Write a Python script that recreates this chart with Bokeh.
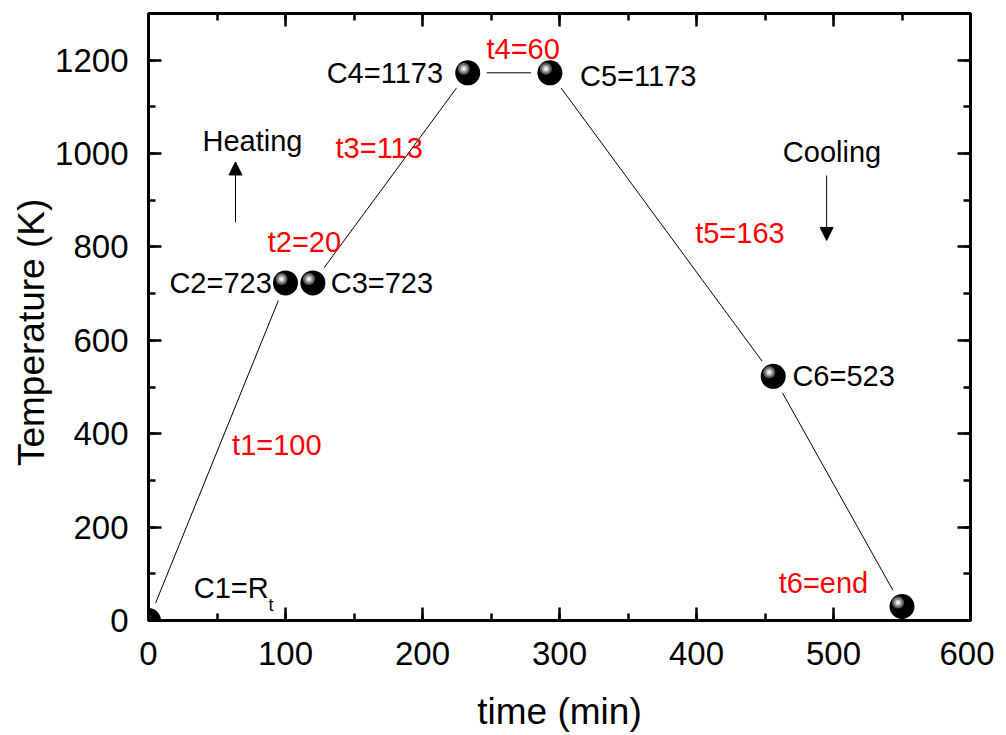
from bokeh.plotting import figure
from bokeh.models import (ColumnDataSource, LinearAxis, SingleIntervalTicker, Arrow,
                          NormalHead, Range1d, CustomJSTickFormatter)
from bokeh.transform import dodge
from bokeh.core.properties import value
from bokeh.embed import file_html
from bokeh.resources import INLINE

# ---- data ----
time_min = [0, 100, 120, 233, 293, 456, 550]
temp_k = [0, 723, 723, 1173, 1173, 523, 30]

point_labels = ["C2=723", "C3=723", "C4=1173", "C5=1173", "C6=523"]
point_label_x = [90, 133, 215, 315, 470]
point_label_y = [723, 723, 1173, 1166, 523]
point_label_align = ["right", "left", "right", "left", "left"]

step_labels = ["t1=100", "t2=20", "t3=113", "t4=60", "t5=163", "t6=end"]
step_label_x = [61, 87, 136.5, 246.7, 399, 460]
step_label_y = [375, 810, 1011, 1225, 829, 81]

FONT = "Liberation Sans"

p = figure(frame_width=822, frame_height=607, output_backend="svg", toolbar_location=None,
           x_range=Range1d(0, 600), y_range=Range1d(0, 1300),
           min_border_left=148, min_border_top=13, min_border_right=24, min_border_bottom=90,
           x_axis_label="time (min)",
           y_axis_label="Temperature (K)\u00a0\u00a0\u00a0")
p.grid.visible = False
p.outline_line_color = "black"
p.outline_line_width = 3

def style_axis(ax, interval, labels=True):
    ax.ticker = SingleIntervalTicker(interval=interval, num_minor_ticks=2)
    ax.axis_line_width = 3
    ax.axis_line_color = "black"
    ax.major_tick_in = 13
    ax.major_tick_out = 0
    ax.minor_tick_in = 7
    ax.minor_tick_out = 0
    ax.major_tick_line_width = 2.5
    ax.minor_tick_line_width = 2.5
    ax.major_tick_line_color = "black"
    ax.minor_tick_line_color = "black"
    if labels:
        ax.major_label_text_font = FONT
        ax.major_label_text_font_size = "33px"
        ax.major_label_text_color = "black"
        ax.major_label_standoff = 16
        ax.axis_label_text_font = FONT
        ax.axis_label_text_font_size = "37px"
        ax.axis_label_text_font_style = "normal"
        ax.axis_label_text_color = "black"
    else:
        ax.formatter = CustomJSTickFormatter(code="return ''")
        ax.major_label_standoff = 0

style_axis(p.xaxis[0], 100)
style_axis(p.yaxis[0], 200)
p.xaxis[0].major_label_standoff = 21
p.xaxis[0].axis_label_standoff = 23
p.yaxis[0].major_label_standoff = 20
p.yaxis[0].axis_label_standoff = 0

top = LinearAxis()
style_axis(top, 100, labels=False)
p.add_layout(top, "above")
right = LinearAxis()
style_axis(right, 200, labels=False)
p.add_layout(right, "right")

src = ColumnDataSource(dict(t=time_min, T=temp_k))

p.line("t", "T", source=src, line_color="black", line_width=1)
# white halo so lines stop short of balls
p.scatter("t", "T", source=src, size=38, fill_color="white", line_color=None)
# black sphere with highlight
p.scatter("t", "T", source=src, size=25, fill_color="black", line_color=None)
hx = dodge("t", -2.9, range=p.x_range)
hy = dodge("T", 8.6, range=p.y_range)
for s, c in [(12, "#5e5e5e"), (8, "#9a9a9a"), (5, "#d8d8d8"), (2, "#ffffff")]:
    p.scatter(hx, hy, source=src, size=s, fill_color=c, line_color=None)

# labels
for txt, x, y, al in zip(point_labels, point_label_x, point_label_y, point_label_align):
    p.text(x=[x], y=[y], text=[txt], text_font=value(FONT), text_font_size="29px",
           text_color="black", text_align=al, text_baseline="middle")

p.text(x=[33], y=[69], text=["C1=R"], text_font=value(FONT), text_font_size="29px",
       text_color="black", text_align="left", text_baseline="middle")
p.text(x=[87.6], y=[34], text=["t"], text_font=value(FONT), text_font_size="18px",
       text_color="black", text_align="left", text_baseline="middle")

p.text(x=step_label_x, y=step_label_y, text=step_labels, text_font=value(FONT),
       text_font_size="29px", text_color="red", text_align="left", text_baseline="middle")

p.text(x=[39.4, 463], y=[1026, 1003], text=["Heating", "Cooling"], text_font=value(FONT),
       text_font_size="29px", text_color="black", text_align="left", text_baseline="middle")

p.add_layout(Arrow(end=NormalHead(size=13, fill_color="black", line_color="black", line_width=1),
                   x_start=63.5, y_start=853, x_end=63.5, y_end=982, line_width=1))
p.add_layout(Arrow(end=NormalHead(size=13, fill_color="black", line_color="black", line_width=1),
                   x_start=495, y_start=953, x_end=495, y_end=814, line_width=1))

open("out.html", "w").write(file_html(p, INLINE))
